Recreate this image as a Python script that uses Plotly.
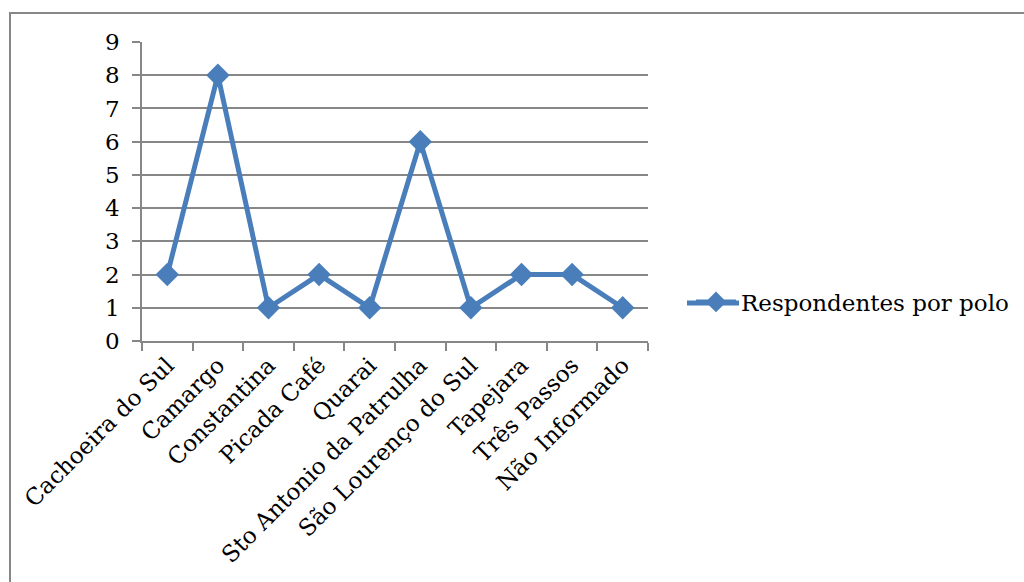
import plotly.graph_objects as go

categories = ["Cachoeira do Sul", "Camargo", "Constantina", "Picada Café", "Quarai",
              "Sto Antonio da Patrulha", "São Lourenço do Sul", "Tapejara", "Três Passos",
              "Não Informado"]
values = [2, 8, 1, 2, 1, 6, 1, 2, 2, 1]
series_name = "Respondentes por polo"

FONT = "DejaVu Serif"
FS = 23
BLUE = "#4A7EBB"
GRID = "#878787"

fig = go.Figure()
fig.add_trace(go.Scatter(
    x=categories, y=values, name=series_name, mode="lines+markers",
    line=dict(color=BLUE, width=5),
    marker=dict(symbol="diamond", size=18, color=BLUE),
    showlegend=True,
))

L, R, T, B = 142, 1024 - 648, 42, 582 - 341
pw, ph = 1024 - L - R, 582 - T - B

def px(x):
    return (x - L) / pw

def py(y):
    return (582 - B - y) / ph

fig.update_layout(
    width=1024, height=582,
    margin=dict(l=L, r=R, t=T, b=B, autoexpand=False),
    paper_bgcolor="white", plot_bgcolor="white",
    font=dict(family=FONT, size=FS, color="black"),
    showlegend=True,
    legend=dict(x=px(691), y=py(302), xanchor="left", yanchor="middle",
                font=dict(family=FONT, size=FS, color="black"),
                bgcolor="rgba(0,0,0,0)", itemwidth=40, tracegroupgap=0),
    xaxis=dict(
        type="category", range=[-0.5, 9.5], tickangle=-45, automargin=False,
        showline=True, linecolor=GRID, linewidth=1.5,
        ticks="outside", tickson="boundaries", ticklen=8, tickcolor=GRID, tickwidth=1.5,
        showgrid=False, tickfont=dict(family=FONT, size=FS, color="black"),
    ),
    yaxis=dict(
        range=[0, 9], dtick=1, tick0=0, automargin=False,
        showline=True, linecolor=GRID, linewidth=1.5,
        ticks="outside", ticklen=8, tickcolor=GRID, tickwidth=1.5,
        showgrid=True, gridcolor=GRID, gridwidth=1.5, zeroline=False,
        tickfont=dict(family=FONT, size=FS, color="black"),
        ticklabelstandoff=8,
    ),
    shapes=[
        dict(type="rect", xref="paper", yref="paper",
             x0=px(10), x1=px(1040), y0=py(600), y1=py(13),
             line=dict(color="#878787", width=2), fillcolor="rgba(0,0,0,0)", layer="below"),
        dict(type="line", xref="paper", yref="paper",
             x0=px(687), x1=px(739), y0=py(303), y1=py(303),
             line=dict(color=BLUE, width=5)),
    ],
)

fig.write_html("out.html")
